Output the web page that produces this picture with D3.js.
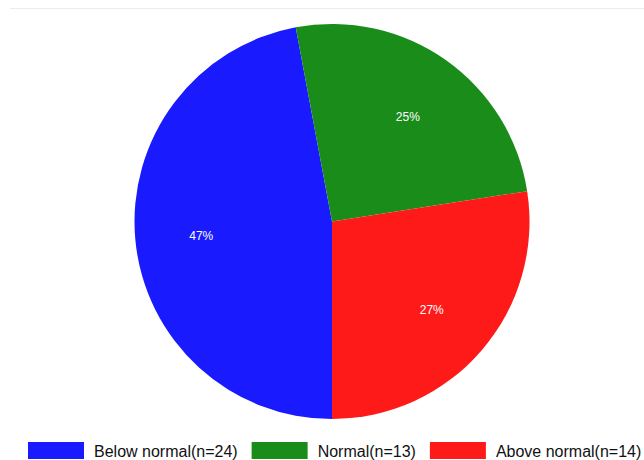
<!DOCTYPE html>
<html lang="en">
<head>
  <meta charset="UTF-8">
  <title>Pie chart</title>
  <style>
    body { margin: 0; background: #fff; }
    svg { display: block; }
  </style>
</head>
<body>
  <svg class="pie-chart"></svg>
  <script src="https://cdn.jsdelivr.net/npm/d3@7/dist/d3.min.js"></script>
  <script>
    var categories = ["Below normal", "Normal", "Above normal"];
    var counts = [24, 13, 14];
    var colors = ["#1a1aff", "#1a8c1a", "#ff1a1a"];

    var w = 644,
        h = 460,
        cx = 332,
        cy = 221.5,
        r = 197.5;

    var svg = d3.select(".pie-chart")
      .attr("width", w)
      .attr("height", h);

    // faint panel border at the top
    svg.append("line")
      .attr("x1", 10).attr("x2", w)
      .attr("y1", 8.5).attr("y2", 8.5)
      .attr("stroke", "#e8eeee")
      .attr("stroke-width", 1);

    var total = d3.sum(counts);
    var data = categories.map((c, i) => ({ name: c, value: counts[i], color: colors[i] }));

    var pie = d3.pie()
      .value(d => d.value)
      .sort(null)
      .startAngle(Math.PI)
      .endAngle(Math.PI * 3);

    var arc = d3.arc().innerRadius(0).outerRadius(r);
    var labelArc = d3.arc().innerRadius(r * 0.665).outerRadius(r * 0.665);

    var g = svg.append("g").attr("transform", `translate(${cx},${cy})`);

    g.selectAll("path")
      .data(pie(data))
      .enter()
      .append("path")
        .attr("d", arc)
        .attr("fill", d => d.data.color);

    g.selectAll("text")
      .data(pie(data))
      .enter()
      .append("text")
        .attr("transform", d => `translate(${labelArc.centroid(d)})`)
        .attr("text-anchor", "middle")
        .attr("dy", "0.55em")
        .attr("font-family", "Liberation Sans, Arial, sans-serif")
        .attr("font-size", 12)
        .attr("fill", "#fff")
        .text(d => Math.round(d.data.value / total * 100) + "%");

    // legend along the bottom
    var legend = svg.append("g").attr("transform", "translate(28,442)");
    var xPos = 0;
    data.forEach(d => {
      var item = legend.append("g").attr("transform", `translate(${xPos},0)`);
      item.append("rect")
        .attr("width", 56)
        .attr("height", 17)
        .attr("fill", d.color);
      var t = item.append("text")
        .attr("x", 66)
        .attr("y", 15)
        .attr("font-family", "Liberation Sans, Arial, sans-serif")
        .attr("font-size", 16)
        .attr("fill", "#111")
        .text(`${d.name}(n=${d.value})`);
      xPos += 66 + t.node().getComputedTextLength() + 14;
    });
  </script>
</body>
</html>
